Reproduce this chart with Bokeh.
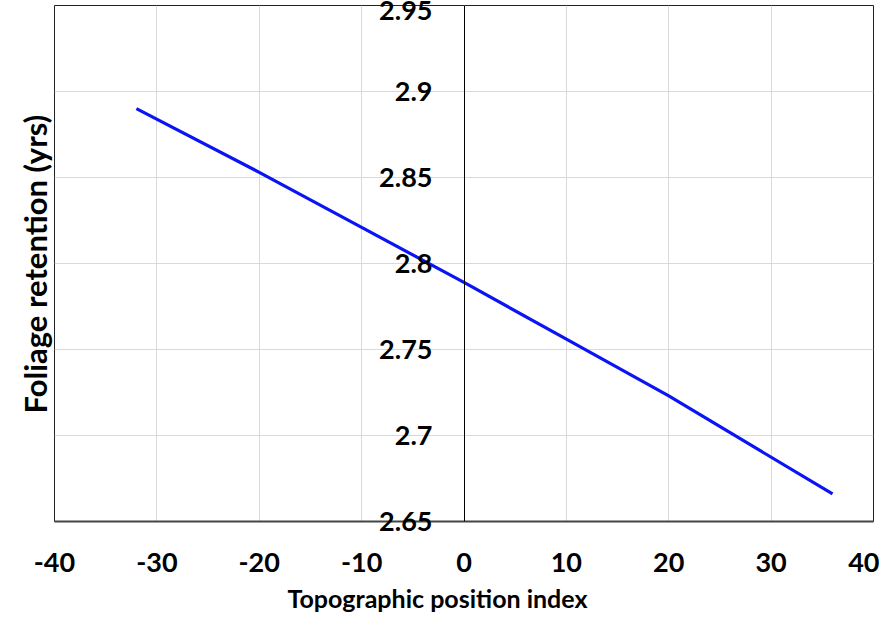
from bokeh.plotting import figure
from bokeh.models import Range1d, FixedTicker, Title, LinearAxis
from bokeh.embed import file_html
from bokeh.resources import INLINE

# Data
tpi = [-32, -20, -10, 0, 10, 20, 36]
retention = [2.890, 2.853, 2.821, 2.789, 2.756, 2.723, 2.666]

x_ticks = [-40, -30, -20, -10, 0, 10, 20, 30, 40]
x_tick_labels = ["-40", "-30", "-20", "-10", "0", "10", "20", "30", "40"]
y_ticks = [2.65, 2.7, 2.75, 2.8, 2.85, 2.9, 2.95]
y_tick_labels = ["2.65", "2.7", "2.75", "2.8", "2.85", "2.9", "2.95"]

x_title = "Topographic position index"
y_title = "Foliage retention (yrs)"

FONT = "Lato"
TICK_FS = "27px"
XT_FS = "25px"
YT_FS = "31px"

p = figure(width=879, height=626, output_backend="svg", toolbar_location=None,
           x_range=Range1d(-40, 40), y_range=Range1d(2.65, 2.95),
           min_border_left=54, min_border_right=6, min_border_top=5,
           min_border_bottom=105)

p.background_fill_color = "white"
p.border_fill_color = "white"
p.outline_line_color = "#222222"
p.outline_line_width = 1

# x axis
xa = p.xaxis[0]
xa.ticker = FixedTicker(ticks=x_ticks)
xa.major_label_overrides = dict(zip(x_ticks, x_tick_labels))
xa.axis_line_color = "#444444"
xa.axis_line_width = 2
xa.major_tick_in = 0
xa.major_tick_out = 0
xa.minor_tick_line_color = None
xa.major_label_standoff = 31
xa.major_label_text_font = FONT
xa.major_label_text_font_style = "bold"
xa.major_label_text_font_size = TICK_FS
xa.major_label_text_color = "black"

# x title below the tick labels
p.add_layout(Title(text=x_title, align="left", offset=233, text_font=FONT,
                   text_font_style="bold", text_font_size=XT_FS,
                   text_color="black", standoff=12), "below")

# vertical axis line crossing at x = 0
ya = p.yaxis[0]
ya.fixed_location = 0
ya.ticker = FixedTicker(ticks=y_ticks)
ya.axis_line_color = "black"
ya.axis_line_width = 1
ya.major_tick_in = 0
ya.major_tick_out = 0
ya.minor_tick_line_color = None
ya.major_label_text_color = None

# grids
p.xgrid.ticker = FixedTicker(ticks=x_ticks)
p.ygrid.ticker = FixedTicker(ticks=y_ticks)
p.xgrid.grid_line_color = "#d9d9d9"
p.ygrid.grid_line_color = "#d9d9d9"
p.xgrid.grid_line_width = 1
p.ygrid.grid_line_width = 1

# y title on the left (next to the frame)
p.add_layout(Title(text=y_title, align="left", offset=108, text_font=FONT,
                   text_font_style="bold", text_font_size=YT_FS,
                   text_color="black", standoff=2), "left")

# y tick labels next to the x = 0 line (side-panel axis so labels are not clipped)
yl = LinearAxis(ticker=FixedTicker(ticks=y_ticks),
                major_label_overrides=dict(zip(y_ticks, y_tick_labels)),
                axis_line_color=None, major_tick_in=0, major_tick_out=0,
                minor_tick_line_color=None, major_label_standoff=-420,
                major_label_text_font=FONT, major_label_text_font_style="bold",
                major_label_text_font_size=TICK_FS, major_label_text_color="black")
p.add_layout(yl, "left")

p.line(tpi, retention, line_color="#0a14f5", line_width=3.2)

open("out.html", "w").write(file_html(p, INLINE))
